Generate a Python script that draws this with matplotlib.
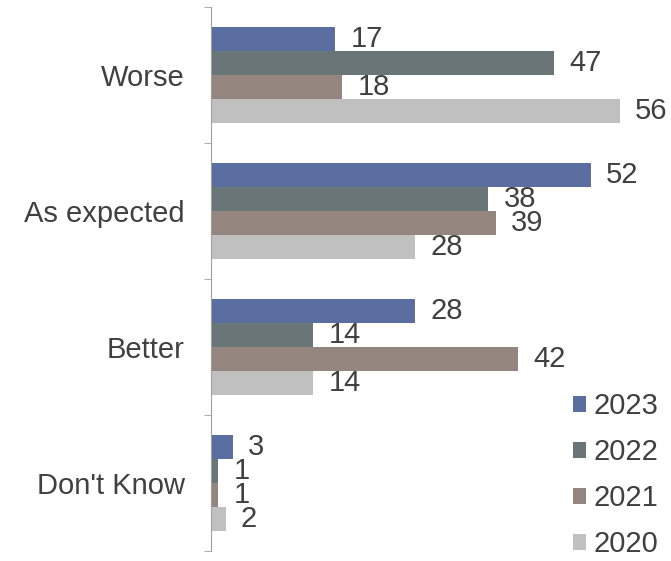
"""Horizontal grouped bars: outcome ratings by survey year."""

import matplotlib.pyplot as plt
import numpy as np

categories = ['Worse', 'As expected', 'Better', "Don't Know"]
years = ['2023', '2022', '2021', '2020']
values = {
    '2023': [17, 52, 28, 3],
    '2022': [47, 38, 14, 1],
    '2021': [18, 39, 42, 1],
    '2020': [56, 28, 14, 2],
}
colors = {
    '2023': '#5A6FA0',
    '2022': '#6A7578',
    '2021': '#94857F',
    '2020': '#C0C0C0',
}


def main():
    text_color = '#404040'
    fsize = 21
    plt.rcParams['font.family'] = ['Arial', 'Liberation Sans', 'DejaVu Sans']

    fig = plt.figure(figsize=(6.71, 5.61), dpi=100)
    ax = fig.add_axes([0.3145, 0.0178, 0.6855, 0.9697])

    y = np.arange(len(categories))
    height = 0.176
    offsets = np.array([-1.5, -0.5, 0.5, 1.5]) * height

    for off, year in zip(offsets, years):
        bars = ax.barh(y + off, values[year], height=height,
                       color=colors[year], label=year)
        ax.bar_label(bars, padding=11, fontsize=fsize, color=text_color)

    ax.set_ylim(3.5, -0.5)
    ax.set_xlim(0, 63)

    # category names centred, boundary ticks between groups
    ax.set_yticks(y)
    ax.set_yticklabels(categories, fontsize=fsize, color=text_color)
    ax.set_yticks(np.arange(-0.5, 4.0, 1.0), minor=True)
    ax.tick_params(axis='y', which='major', length=0, pad=19)
    ax.tick_params(axis='y', which='minor', length=5, color='#A0A0A0')
    ax.set_xticks([])

    for side in ['top', 'right', 'bottom']:
        ax.spines[side].set_visible(False)
    ax.spines['left'].set_color('#A0A0A0')

    ax.legend(loc='lower right', bbox_to_anchor=(1.03, -0.062), frameon=False,
              fontsize=fsize, labelcolor=text_color, handlelength=0.45,
              handleheight=0.45, handletextpad=0.25, labelspacing=0.62)

    fig.savefig('out.png', dpi=100)


if __name__ == '__main__':
    main()
